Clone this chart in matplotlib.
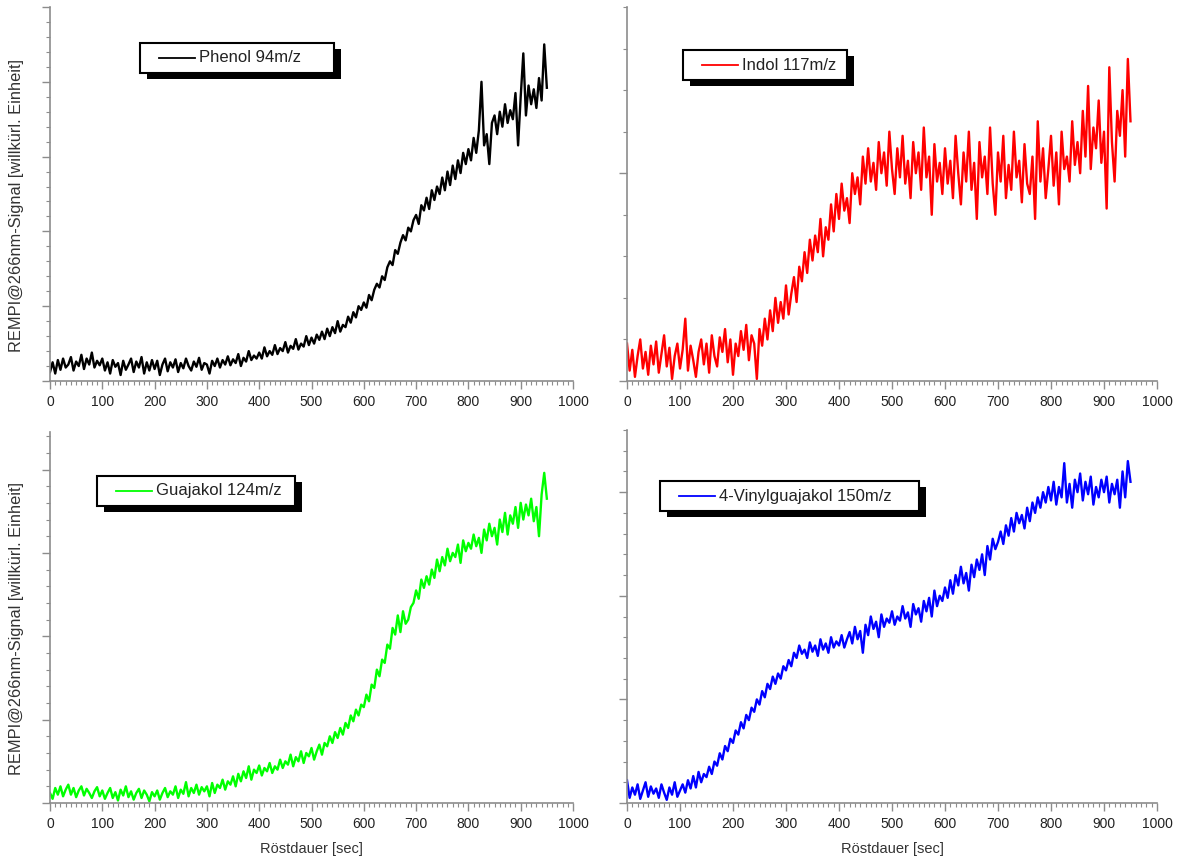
import numpy as np
import matplotlib
matplotlib.use('Agg')
import matplotlib.pyplot as plt
from matplotlib.patches import Rectangle
from matplotlib.lines import Line2D
from matplotlib.ticker import MultipleLocator

plt.rcParams['font.family'] = ['Liberation Sans', 'DejaVu Sans']

# Röstdauer in Sekunden, Abstand 5 s
zeit = np.arange(0, 951, 5)

phenol = [
    0.12, 0.25, 0.10, 0.28, 0.15, 0.30, 0.18, 0.22, 0.32, 0.14, 0.26, 0.20, 0.35, 0.16, 0.30, 0.22, 0.38, 0.18, 0.27, 0.21,
    0.30, 0.14, 0.25, 0.10, 0.28, 0.19, 0.24, 0.08, 0.27, 0.15, 0.22, 0.30, 0.12, 0.26, 0.18, 0.32, 0.10, 0.25, 0.14, 0.28,
    0.16, 0.27, 0.08, 0.22, 0.30, 0.13, 0.25, 0.18, 0.29, 0.12, 0.24, 0.17, 0.30, 0.20, 0.14, 0.26, 0.19, 0.31, 0.15, 0.24,
    0.22, 0.10, 0.27, 0.20, 0.30, 0.18, 0.28, 0.22, 0.33, 0.21, 0.29, 0.24, 0.36, 0.20, 0.31, 0.26, 0.40, 0.28, 0.34, 0.30,
    0.38, 0.30, 0.45, 0.33, 0.40, 0.35, 0.48, 0.36, 0.44, 0.40, 0.52, 0.38, 0.47, 0.43, 0.56, 0.42, 0.50, 0.46, 0.60, 0.48,
    0.58, 0.50, 0.62, 0.55, 0.66, 0.56, 0.70, 0.60, 0.72, 0.64, 0.80, 0.66, 0.75, 0.72, 0.86, 0.78, 0.92, 0.85, 1.00, 0.95,
    1.05, 0.98, 1.15, 1.08, 1.22, 1.30, 1.25, 1.40, 1.35, 1.52, 1.60, 1.55, 1.75, 1.70, 1.85, 1.95, 1.88, 2.05, 2.00, 2.15,
    2.22, 2.10, 2.35, 2.28, 2.45, 2.30, 2.55, 2.42, 2.60, 2.50, 2.72, 2.55, 2.80, 2.62, 2.88, 2.70, 2.95, 2.78, 3.05, 2.90,
    3.10, 2.95, 3.25, 3.05, 3.35, 4.00, 3.15, 3.30, 2.90, 3.45, 3.55, 3.30, 3.60, 3.40, 3.70, 3.45, 3.62, 3.50, 3.85, 3.15,
    3.80, 4.38, 3.55, 3.95, 3.70, 3.90, 3.65, 4.05, 3.75, 4.50, 3.92,
]

indol = [
    0.18, 0.05, 0.15, 0.02, 0.12, 0.20, 0.06, 0.14, 0.03, 0.17, 0.08, 0.19, 0.04, 0.13, 0.22, 0.07, 0.16, 0.01, 0.12, 0.18,
    0.06, 0.15, 0.30, 0.05, 0.17, 0.10, 0.02, 0.14, 0.20, 0.08, 0.18, 0.04, 0.22, 0.12, 0.07, 0.21, 0.14, 0.25, 0.09, 0.20,
    0.03, 0.18, 0.12, 0.24, 0.15, 0.27, 0.10, 0.22, 0.18, 0.01, 0.25, 0.17, 0.30, 0.20, 0.34, 0.24, 0.40, 0.28, 0.38, 0.30,
    0.46, 0.32, 0.42, 0.50, 0.38, 0.55, 0.48, 0.62, 0.52, 0.68, 0.58, 0.70, 0.62, 0.78, 0.60, 0.74, 0.68, 0.85, 0.72, 0.90,
    0.78, 0.95, 0.82, 0.88, 0.76, 1.00, 0.90, 0.98, 0.85, 1.08, 0.95, 1.12, 0.96, 1.05, 0.92, 1.15, 1.00, 1.10, 0.94, 1.20,
    1.02, 0.90, 1.12, 0.98, 1.18, 0.95, 1.06, 0.88, 1.15, 1.00, 1.10, 0.92, 1.22, 0.98, 1.08, 0.80, 1.14, 0.96, 1.05, 0.90,
    1.12, 0.95, 1.06, 0.88, 1.18, 1.00, 0.85, 1.10, 0.96, 1.20, 0.92, 1.05, 0.78, 1.15, 0.98, 1.08, 0.90, 1.22, 0.95, 0.80,
    1.10, 0.96, 1.18, 0.88, 1.04, 0.92, 1.20, 0.98, 1.06, 0.86, 1.14, 0.95, 0.90, 1.08, 0.78, 1.25, 0.96, 1.12, 0.88, 1.02,
    1.18, 0.94, 1.10, 0.85, 1.20, 1.02, 1.08, 0.96, 1.25, 1.04, 1.15, 1.00, 1.30, 1.08, 1.42, 1.02, 1.22, 1.12, 1.35, 1.05,
    1.20, 0.83, 1.51, 1.15, 0.96, 1.30, 1.18, 1.40, 1.08, 1.55, 1.25,
]

guajakol = [
    0.12, 0.05, 0.18, 0.10, 0.20, 0.08, 0.16, 0.22, 0.10, 0.18, 0.07, 0.15, 0.20, 0.09, 0.17, 0.12, 0.06, 0.14, 0.19, 0.08,
    0.15, 0.05, 0.12, 0.18, 0.06, 0.13, 0.03, 0.16, 0.09, 0.20, 0.07, 0.14, 0.04, 0.12, 0.17, 0.06, 0.15, 0.10, 0.02, 0.13,
    0.08, 0.15, 0.04, 0.12, 0.18, 0.07, 0.14, 0.10, 0.20, 0.06, 0.16, 0.11, 0.25, 0.08, 0.18, 0.12, 0.22, 0.10, 0.19, 0.14,
    0.20, 0.08, 0.24, 0.12, 0.22, 0.18, 0.28, 0.16, 0.26, 0.22, 0.32, 0.20, 0.35, 0.26, 0.38, 0.30, 0.44, 0.28, 0.40, 0.36,
    0.45, 0.33, 0.42, 0.38, 0.48, 0.36, 0.44, 0.40, 0.52, 0.42, 0.50, 0.46, 0.58, 0.44, 0.55, 0.50, 0.62, 0.48, 0.60, 0.56,
    0.66, 0.52, 0.62, 0.70, 0.58, 0.72, 0.68, 0.80, 0.72, 0.85, 0.78, 0.90, 0.82, 0.96, 0.90, 1.05, 0.98, 1.12, 1.05, 1.18,
    1.15, 1.30, 1.22, 1.42, 1.38, 1.60, 1.52, 1.72, 1.68, 1.90, 1.85, 2.10, 2.02, 2.25, 2.05, 2.30, 2.15, 2.20, 2.35, 2.40,
    2.55, 2.45, 2.68, 2.58, 2.72, 2.62, 2.80, 2.70, 2.92, 2.78, 2.95, 2.85, 3.05, 2.90, 3.00, 2.95, 3.10, 2.88, 3.15, 3.02,
    3.12, 3.05, 3.22, 3.08, 3.18, 3.00, 3.28, 3.15, 3.35, 3.20, 3.30, 3.10, 3.40, 3.25, 3.48, 3.22, 3.45, 3.35, 3.55, 3.30,
    3.60, 3.40, 3.58, 3.45, 3.65, 3.38, 3.55, 3.20, 3.70, 3.96, 3.65,
]

vinylguajakol = [
    0.22, 0.05, 0.15, 0.08, 0.18, 0.04, 0.12, 0.20, 0.06, 0.16, 0.09, 0.14, 0.05, 0.18, 0.10, 0.03, 0.15, 0.08, 0.20, 0.06,
    0.12, 0.18, 0.10, 0.22, 0.14, 0.26, 0.15, 0.30, 0.20, 0.28, 0.25, 0.35, 0.28, 0.40, 0.36, 0.48, 0.42, 0.55, 0.50, 0.62,
    0.58, 0.70, 0.66, 0.78, 0.72, 0.85, 0.80, 0.92, 0.88, 1.00, 0.95, 1.08, 1.02, 1.15, 1.10, 1.22, 1.15, 1.25, 1.20, 1.32,
    1.28, 1.38, 1.32, 1.45, 1.40, 1.52, 1.44, 1.48, 1.40, 1.55, 1.46, 1.52, 1.42, 1.58, 1.48, 1.54, 1.45, 1.60, 1.50, 1.56,
    1.52, 1.62, 1.50, 1.58, 1.65, 1.54, 1.70, 1.58, 1.66, 1.45, 1.72, 1.62, 1.80, 1.68, 1.75, 1.60, 1.82, 1.70, 1.78, 1.74,
    1.85, 1.72, 1.80, 1.76, 1.90, 1.78, 1.84, 1.70, 1.92, 1.82, 1.88, 1.75, 1.95, 1.85, 1.98, 1.80, 2.05, 1.90, 2.00, 1.95,
    2.08, 1.98, 2.15, 2.02, 2.20, 2.10, 2.28, 2.12, 2.22, 2.05, 2.30, 2.18, 2.35, 2.25, 2.40, 2.20, 2.48, 2.35, 2.55, 2.45,
    2.52, 2.62, 2.50, 2.68, 2.58, 2.75, 2.62, 2.80, 2.70, 2.78, 2.65, 2.85, 2.72, 2.90, 2.80, 2.95, 2.85, 3.00, 2.90, 3.05,
    2.92, 3.10, 2.88, 3.05, 2.95, 3.28, 2.90, 3.08, 2.85, 3.12, 3.00, 3.18, 2.92, 3.10, 2.98, 3.15, 2.88, 3.05, 2.95, 3.12,
    3.00, 3.15, 2.90, 3.08, 2.98, 3.12, 2.85, 3.20, 2.95, 3.30, 3.10,
]

namen = ['Phenol 94m/z', 'Indol 117m/z', 'Guajakol 124m/z', '4-Vinylguajakol 150m/z']
farben = ['#000000', '#ff0000', '#00ff00', '#0000ff']
y_max = [5.0, 1.8, 4.45, 3.6]
reihen = [phenol, indol, guajakol, vinylguajakol]

W, H = 1179, 861
fig = plt.figure(figsize=(W / 100, H / 100), dpi=100)

# Achsenpositionen in Pixeln: links, oben, rechts, unten
rahmen = [(50, 7, 573, 381), (627, 7, 1157, 381), (50, 432, 573, 803), (627, 430, 1157, 803)]
# Legendenkasten: links, oben, Breite
legenden = [(140, 43, 194), (683, 50, 164), (97, 476, 198), (660, 481, 259)]

achsenfarbe = '#8c8c8c'

for i in range(4):
    l, o, r, u = rahmen[i]
    ax = fig.add_axes([l / W, 1 - u / H, (r - l) / W, (u - o) / H])
    ax.plot(zeit, reihen[i], color=farben[i], lw=1.7)
    ax.set_xlim(0, 1000)
    ax.set_ylim(0, y_max[i])
    for s in ['top', 'right']:
        ax.spines[s].set_visible(False)
    for s in ['left', 'bottom']:
        ax.spines[s].set_color(achsenfarbe)
        ax.spines[s].set_linewidth(1.2)
    ax.xaxis.set_major_locator(MultipleLocator(100))
    ax.xaxis.set_minor_locator(MultipleLocator(10))
    ax.yaxis.set_major_locator(MultipleLocator(1))
    ax.yaxis.set_minor_locator(MultipleLocator(0.2))
    ax.tick_params(which='major', length=6, width=1, color=achsenfarbe, labelsize=10, pad=4, labelcolor='#222222')
    ax.tick_params(which='minor', length=3, width=0.8, color=achsenfarbe)
    ax.tick_params(axis='y', which='both', labelleft=False)
    if i >= 2:
        ax.set_xlabel('Röstdauer [sec]', fontsize=10.5, color='#333333', labelpad=8)
    if i % 2 == 0:
        ax.set_ylabel('REMPI@266nm-Signal [willkürl. Einheit]', fontsize=11.8, color='#333333')
        ax.yaxis.set_label_coords(-26 / (r - l), 0.47)

    # Legende mit schwarzem Schatten
    lx, ly, lw = legenden[i]
    lh = 30
    fig.add_artist(Rectangle(((lx + 7) / W, 1 - (ly + lh + 6) / H), lw / W, lh / H,
                             transform=fig.transFigure, facecolor='black', edgecolor='black', lw=0))
    fig.add_artist(Rectangle((lx / W, 1 - (ly + lh) / H), lw / W, lh / H,
                             transform=fig.transFigure, facecolor='white', edgecolor='black', lw=1.5))
    ym = 1 - (ly + lh / 2) / H
    fig.add_artist(Line2D([(lx + 19) / W, (lx + 55) / W], [ym, ym], transform=fig.transFigure,
                          color=farben[i], lw=1.3))
    fig.text((lx + 59) / W, ym, namen[i], fontsize=12, va='center', ha='left', color='#222222')

plt.savefig('out.png', dpi=100)
